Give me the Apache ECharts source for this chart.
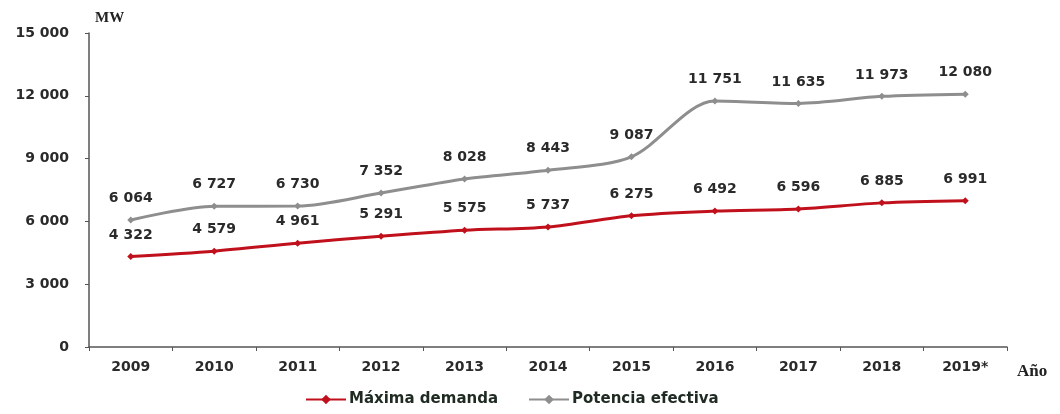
<!DOCTYPE html>
<html>
<head>
<meta charset="utf-8">
<script src="https://cdn.jsdelivr.net/npm/echarts@6/dist/echarts.min.js"></script>
<style>
  html, body { margin: 0; padding: 0; background: #fff; }
  #chart { width: 1060px; height: 414px; }
</style>
</head>
<body>
<div id="chart"></div>
<script>
// Years on the horizontal axis
const years = ['2009', '2010', '2011', '2012', '2013', '2014', '2015', '2016', '2017', '2018', '2019*'];
// Peak demand (MW)
const maximaDemanda = [4322, 4579, 4961, 5291, 5575, 5737, 6275, 6492, 6596, 6885, 6991];
// Effective capacity (MW)
const potenciaEfectiva = [6064, 6727, 6730, 7352, 8028, 8443, 9087, 11751, 11635, 11973, 12080];
// Value axis ticks
const yTicks = [0, 3000, 6000, 9000, 12000, 15000];

const fmt = v => String(v).replace(/\B(?=(\d{3})+(?!\d))/g, ' ');

const FONT = 'DejaVu Sans, Verdana, sans-serif';
const SERIF = 'Liberation Serif, Times New Roman, serif';

const chart = echarts.init(document.getElementById('chart'), null, { renderer: 'canvas' });

const labelStyle = {
  show: true,
  position: 'top',
  distance: 11,
  fontFamily: FONT,
  fontWeight: 'bold',
  fontSize: 14,
  color: '#2a2a2a',
  formatter: p => fmt(p.value)
};

chart.setOption({
  animation: false,
  backgroundColor: '#fff',
  grid: { left: 89, right: 53, top: 33, bottom: 67 },
  title: [
    { text: 'MW', left: 90, top: 6,
      textStyle: { fontFamily: SERIF, fontWeight: 'bold', fontSize: 15, color: '#222' } },
    { text: 'Año', left: 1012, top: 358,
      textStyle: { fontFamily: SERIF, fontWeight: 'bold', fontSize: 17, color: '#222' } }
  ],
  legend: {
    bottom: 2,
    left: 300,
    itemWidth: 40,
    itemHeight: 12,
    itemGap: 30,
    textStyle: { fontFamily: FONT, fontWeight: 'bold', fontSize: 15, color: '#1e2a22', padding: [0, 0, 0, -2] },
    data: ['Máxima demanda', 'Potencia efectiva']
  },
  xAxis: {
    type: 'category',
    data: years,
    boundaryGap: true,
    axisLine: { lineStyle: { color: '#555', width: 1.5 } },
    axisTick: { show: true, alignWithLabel: false, length: 4, lineStyle: { color: '#555' } },
    axisLabel: { fontFamily: FONT, fontWeight: 'bold', fontSize: 14, color: '#2a2a2a', margin: 13 }
  },
  yAxis: {
    type: 'value',
    min: yTicks[0],
    max: yTicks[yTicks.length - 1],
    interval: 3000,
    splitLine: { show: false },
    axisLine: { show: true, lineStyle: { color: '#555', width: 1.5 } },
    axisTick: { show: true, length: 4, lineStyle: { color: '#555' } },
    axisLabel: { fontFamily: FONT, fontWeight: 'bold', fontSize: 14, color: '#2a2a2a', margin: 20, formatter: v => fmt(v) }
  },
  series: [
    {
      name: 'Máxima demanda',
      type: 'line',
      data: maximaDemanda,
      smooth: 0.3,
      symbol: 'diamond',
      symbolSize: 7,
      itemStyle: { color: '#c0101c' },
      lineStyle: { color: '#c0101c', width: 3 },
      label: labelStyle
    },
    {
      name: 'Potencia efectiva',
      type: 'line',
      data: potenciaEfectiva,
      smooth: 0.3,
      symbol: 'diamond',
      symbolSize: 7,
      itemStyle: { color: '#8e8e8e' },
      lineStyle: { color: '#8e8e8e', width: 3 },
      label: labelStyle
    }
  ]
});
</script>
</body>
</html>
